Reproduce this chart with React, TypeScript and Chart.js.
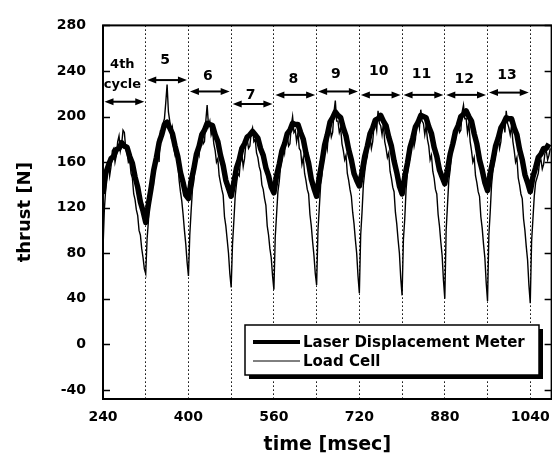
import React, { useEffect, useRef } from "react";
import { Chart, registerables } from "chart.js";

Chart.register(...registerables);

// Sampling grids of the two records (msec)
const SAMPLE_START_MS = 240;
const LASER_STEP_MS = 5;
const LOAD_CELL_STEP_MS = 2.5;

// Laser Displacement Meter thrust [N], one row per cycle (16 samples / 80 ms)
const laserDisplacement: number[] = [
  132, 150, 157, 163, 165, 171, 172, 177, 174, 173, 165, 159, 147, 138, 125, 117,
  107, 123, 137, 153, 164, 177, 184, 193, 195, 190, 185, 174, 165, 151, 142, 131,
  128, 143, 154, 167, 174, 184, 188, 194, 193, 192, 184, 178, 166, 157, 144, 137,
  130, 142, 155, 162, 172, 176, 182, 184, 187, 184, 181, 172, 166, 155, 148, 138,
  133, 148, 158, 170, 176, 185, 188, 194, 193, 193, 186, 180, 168, 159, 145, 137,
  130, 147, 160, 175, 184, 195, 199, 204, 201, 199, 190, 183, 171, 162, 150, 144,
  139, 151, 165, 174, 185, 190, 197, 198, 201, 196, 192, 182, 174, 161, 151, 139,
  132, 147, 159, 173, 181, 191, 195, 201, 200, 199, 191, 185, 173, 165, 153, 147,
  141, 153, 167, 176, 187, 192, 200, 202, 205, 200, 196, 185, 176, 162, 153, 142,
  135, 150, 161, 174, 181, 190, 194, 199, 198, 198, 190, 184, 171, 162, 149, 142,
  134, 147, 155, 164, 167, 172, 172, 176,
];

// Load Cell thrust [N], one row per cycle (32 samples / 80 ms)
const loadCell: number[] = [
  84, 118, 136, 150, 161, 148, 156, 170, 172, 160, 166, 178, 183, 170, 176, 188,
  186, 172, 168, 160, 162, 150, 146, 132, 127, 118, 113, 100, 96, 84, 76, 66,
  62, 92, 108, 130, 138, 150, 144, 162, 168, 176, 160, 186, 184, 194, 198, 212,
  228, 204, 196, 184, 190, 172, 166, 170, 162, 144, 134, 126, 114, 100, 88, 72,
  60, 96, 117, 136, 143, 156, 162, 170, 166, 180, 184, 176, 178, 196, 210, 192,
  196, 184, 188, 176, 170, 160, 163, 148, 142, 136, 131, 112, 104, 92, 80, 62,
  50, 88, 108, 130, 141, 150, 148, 162, 167, 156, 163, 176, 180, 172, 174, 186,
  190, 178, 180, 168, 164, 156, 152, 140, 136, 128, 122, 104, 96, 84, 76, 60,
  48, 94, 114, 134, 143, 156, 162, 174, 168, 182, 184, 174, 176, 192, 200, 186,
  188, 178, 186, 172, 170, 158, 164, 150, 144, 136, 132, 114, 104, 90, 78, 62,
  52, 100, 120, 140, 148, 164, 170, 180, 172, 188, 192, 182, 186, 204, 214, 196,
  196, 186, 190, 176, 170, 162, 166, 150, 144, 136, 130, 116, 106, 92, 80, 60,
  45, 96, 116, 140, 151, 160, 165, 178, 182, 172, 178, 192, 196, 188, 205, 194,
  192, 184, 194, 178, 172, 164, 168, 152, 146, 138, 134, 116, 106, 92, 80, 58,
  43, 92, 110, 136, 150, 158, 164, 178, 184, 174, 180, 194, 198, 190, 206, 196,
  194, 184, 192, 180, 174, 162, 166, 152, 146, 136, 132, 114, 104, 90, 78, 56,
  40, 100, 122, 144, 153, 166, 172, 184, 180, 192, 196, 186, 188, 204, 210, 198,
  198, 186, 194, 178, 170, 160, 164, 148, 142, 134, 130, 112, 102, 88, 76, 54,
  38, 96, 116, 140, 152, 160, 166, 178, 182, 172, 178, 192, 196, 186, 205, 194,
  190, 184, 192, 178, 170, 160, 164, 146, 140, 132, 128, 110, 100, 86, 74, 52,
  36, 90, 110, 130, 142, 146, 150, 160, 162, 154, 158, 168, 170, 162, 166, 172,
];

const seriesNames = ["Laser Displacement Meter", "Load Cell"];

// Axis
const X_MIN = 240;
const X_MAX = 1080;
const X_GRID_STEP = 80;
const xTickLabels = [240, 400, 560, 720, 880, 1040];
const Y_MIN = -48;
const Y_MAX = 280;
const yTicks = [-40, 0, 40, 80, 120, 160, 200, 240, 280];

// Cycle annotations
const cycleStarts = [240, 320, 400, 480, 560, 640, 720, 800, 880, 960];
const cycleEnds = [320, 400, 480, 560, 640, 720, 800, 880, 960, 1040];
const cycleLabels = [["4th", "cycle"], ["5"], ["6"], ["7"], ["8"], ["9"], ["10"], ["11"], ["12"], ["13"]];
const arrowLevels = [213, 232, 222, 211, 219, 222, 219, 219, 219, 221];
const labelLevels = [246, 249, 235, 219, 233, 237, 240, 237, 233, 236];

const FONT = "'DejaVu Sans', 'Liberation Sans', sans-serif";

const overlayPlugin = {
  id: "overlay",
  afterDatasetsDraw(chart: any) {
    const { ctx, chartArea: a, scales } = chart;
    const xs = scales.x;
    const ys = scales.y;
    ctx.save();
    ctx.setLineDash([]);
    ctx.strokeStyle = "#000";
    ctx.fillStyle = "#000";

    // frame
    ctx.lineWidth = 2;
    ctx.strokeRect(a.left, a.top, a.right - a.left, a.bottom - a.top);

    // inside y tick marks
    ctx.lineWidth = 1.5;
    for (const v of yTicks) {
      const py = Math.round(ys.getPixelForValue(v)) + 0.5;
      ctx.beginPath();
      ctx.moveTo(a.left, py);
      ctx.lineTo(a.left + 7, py);
      ctx.moveTo(a.right, py);
      ctx.lineTo(a.right - 7, py);
      ctx.stroke();
    }

    // cycle arrows
    const head = 9;
    const half = 3.5;
    for (let i = 0; i < cycleStarts.length; i++) {
      const x1 = xs.getPixelForValue(cycleStarts[i]) + 1.5;
      const x2 = xs.getPixelForValue(cycleEnds[i]) - 1.5;
      const py = ys.getPixelForValue(arrowLevels[i]);
      ctx.lineWidth = 2;
      ctx.beginPath();
      ctx.moveTo(x1 + head - 2, py);
      ctx.lineTo(x2 - head + 2, py);
      ctx.stroke();
      ctx.beginPath();
      ctx.moveTo(x1, py);
      ctx.lineTo(x1 + head, py - half);
      ctx.lineTo(x1 + head, py + half);
      ctx.closePath();
      ctx.fill();
      ctx.beginPath();
      ctx.moveTo(x2, py);
      ctx.lineTo(x2 - head, py - half);
      ctx.lineTo(x2 - head, py + half);
      ctx.closePath();
      ctx.fill();

      const cx = xs.getPixelForValue((cycleStarts[i] + cycleEnds[i]) / 2) - 2;
      const ly = ys.getPixelForValue(labelLevels[i]);
      ctx.font = `bold ${i === 0 ? 13 : 14}px ${FONT}`;
      ctx.textAlign = "center";
      ctx.textBaseline = "middle";
      cycleLabels[i].forEach((t, k) => {
        ctx.fillText(t, cx, ly + k * 20);
      });
    }

    // legend
    const bx = 245, by = 325, bw = 294, bh = 50;
    ctx.fillRect(bx + 4, by + 4, bw, bh);
    ctx.fillStyle = "#fff";
    ctx.fillRect(bx, by, bw, bh);
    ctx.lineWidth = 1.5;
    ctx.strokeRect(bx, by, bw, bh);
    ctx.fillStyle = "#000";
    const rows = [342, 361];
    const widths = [4, 1];
    chart.data.datasets.forEach((ds: any, k: number) => {
      ctx.lineWidth = widths[k];
      ctx.beginPath();
      ctx.moveTo(253, rows[k]);
      ctx.lineTo(300, rows[k]);
      ctx.stroke();
      ctx.font = `bold 15px ${FONT}`;
      ctx.textAlign = "left";
      ctx.textBaseline = "middle";
      ctx.fillText(ds.label, 303, rows[k] + 1);
    });

    ctx.restore();
  },
};

export default function App() {
  const canvasRef = useRef<HTMLCanvasElement | null>(null);

  useEffect(() => {
    if (!canvasRef.current) return;
    const laserTimes = laserDisplacement.map((_, i) => SAMPLE_START_MS + i * LASER_STEP_MS);
    const cellTimes = loadCell.map((_, i) => SAMPLE_START_MS + i * LOAD_CELL_STEP_MS);
    const chart = new Chart(canvasRef.current, {
      type: "line",
      data: {
        datasets: [
          {
            label: seriesNames[0],
            data: laserTimes.map((t, i) => ({ x: t, y: laserDisplacement[i] })),
            borderColor: "#000",
            borderWidth: 5.5,
            pointRadius: 0,
            tension: 0,
            borderJoinStyle: "round",
          },
          {
            label: seriesNames[1],
            data: cellTimes.map((t, i) => ({ x: t, y: loadCell[i] })),
            borderColor: "#000",
            borderWidth: 1.4,
            pointRadius: 0,
            tension: 0,
          },
        ],
      },
      options: {
        animation: false,
        responsive: false,
        devicePixelRatio: 1,
        layout: { padding: { left: 0, top: 19, right: 5.5, bottom: 0 } },
        plugins: { legend: { display: false }, tooltip: { enabled: false } },
        scales: {
          x: {
            type: "linear",
            min: X_MIN,
            max: X_MAX,
            afterFit: (s: any) => {
              s.height = 63;
            },
            ticks: {
              stepSize: X_GRID_STEP,
              includeBounds: false,
              autoSkip: false,
              maxRotation: 0,
              padding: 10,
              color: "#000",
              font: { family: FONT, size: 14, weight: "bold" },
              callback: (v: any) => (xTickLabels.includes(Number(v)) ? String(v) : ""),
            },
            grid: { display: true, drawTicks: false, color: "#000", lineWidth: 1 },
            border: { display: false, dash: [1.5, 2.5] },
            title: {
              display: true,
              text: "time [msec]",
              color: "#000",
              font: { family: FONT, size: 19, weight: "bold" },
              padding: { top: 0, bottom: 6 },
            },
          },
          y: {
            type: "linear",
            min: Y_MIN,
            max: Y_MAX,
            afterFit: (s: any) => {
              s.width = 103;
            },
            ticks: {
              stepSize: 40,
              includeBounds: false,
              padding: 17,
              color: "#000",
              font: { family: FONT, size: 14, weight: "bold" },
            },
            grid: { display: false, drawTicks: false },
            border: { display: false },
            title: {
              display: true,
              text: "thrust [N]",
              color: "#000",
              font: { family: FONT, size: 18, weight: "bold" },
              padding: { top: 15, bottom: 0 },
            },
          },
        },
      },
      plugins: [overlayPlugin],
    });
    return () => chart.destroy();
  }, []);

  return (
    <div
      style={{
        position: "fixed",
        left: 0,
        top: 0,
        width: 552,
        height: 462,
        overflow: "hidden",
        background: "#fff",
      }}
    >
      <canvas ref={canvasRef} width={560} height={462} style={{ display: "block" }} />
    </div>
  );
}
